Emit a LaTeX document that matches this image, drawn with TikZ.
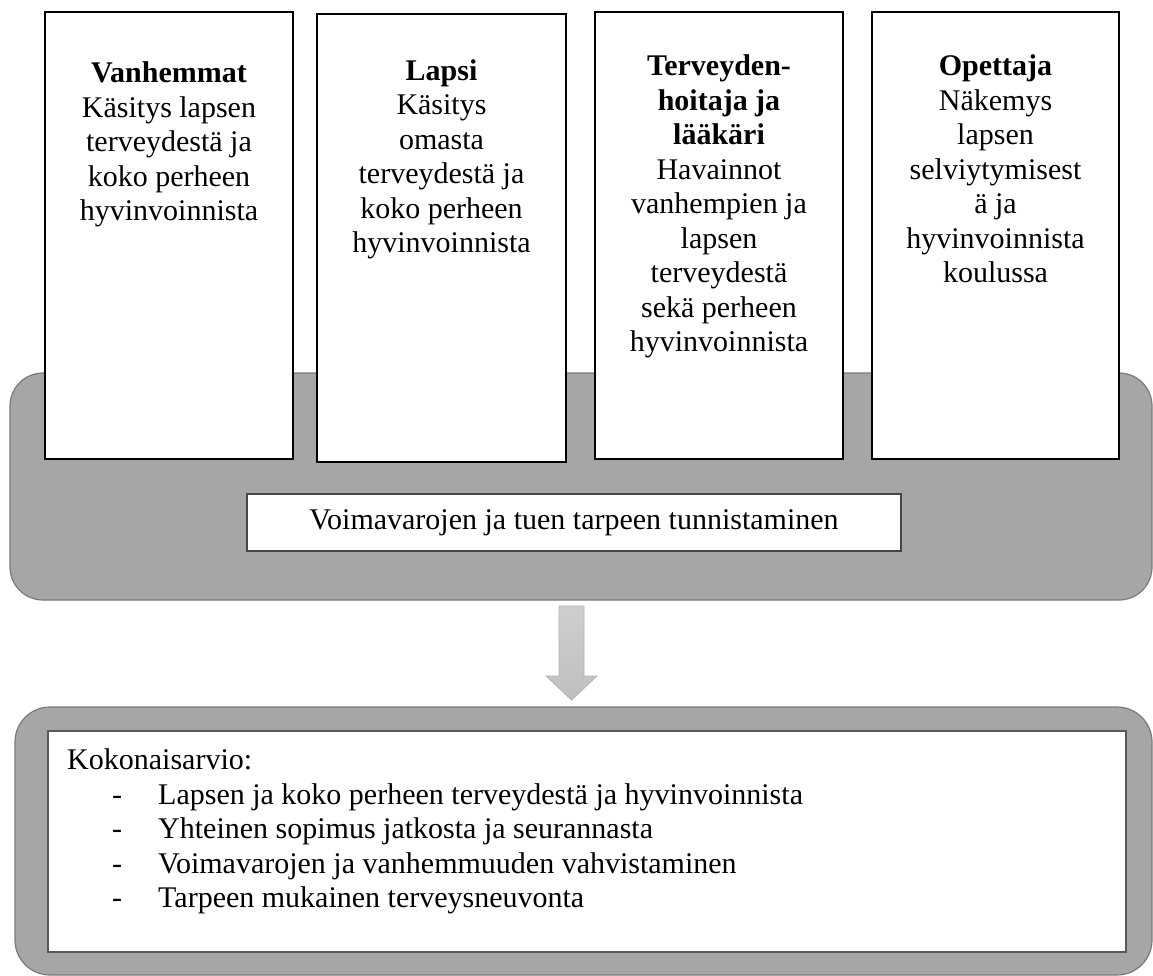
\documentclass[tikz,border=0pt]{standalone}
\usepackage{fontspec}
\setmainfont{Liberation Serif}
\usetikzlibrary{calc}
\newcommand\bodyfont{\fontsize{30}{34.5}\selectfont}
\begin{document}
\begin{tikzpicture}[x=1pt,y=-1pt,
  graybox/.style={draw=black!52, line width=1.2pt, fill=black!35, inner sep=0pt},
  whitebox/.style={draw=black, line width=1.6pt, fill=white, inner sep=0pt},
  midbox/.style={draw=black!72, line width=1.2pt, fill=white, inner sep=0pt, font=\bodyfont},
  boxlabel/.style={font=\bodyfont, align=center, inner sep=0pt, anchor=north},
  blockarrow/.style={draw=black!30, line width=0.8pt, top color=black!19, bottom color=black!25}]
\useasboundingbox (0,0) rectangle (1153,976);
% upper gray panel
\node[graybox, rounded corners=33pt, minimum width=1142pt, minimum height=227pt] (g1) at (581,486.5) {};
% four white boxes
\node[whitebox, minimum width=248pt, minimum height=447pt] (b1) at (169,235.5) {};
\node[whitebox, minimum width=249pt, minimum height=448pt] (b2) at (441.5,238) {};
\node[whitebox, minimum width=248pt, minimum height=447pt] (b3) at (719,235.5) {};
\node[whitebox, minimum width=247pt, minimum height=447pt] (b4) at (995.5,235.5) {};
\node[boxlabel] (t1) at (169,61.5) {\textbf{Vanhemmat}\\Käsitys lapsen\\terveydestä ja\\koko perheen\\hyvinvoinnista};
\node[boxlabel] (t2) at (441.5,59) {\textbf{Lapsi}\\Käsitys\\omasta\\terveydestä ja\\koko perheen\\hyvinvoinnista};
\node[boxlabel] (t3) at (719,54.5) {\textbf{Terveyden-}\\\textbf{hoitaja ja}\\\textbf{lääkäri}\\Havainnot\\vanhempien ja\\lapsen\\terveydestä\\sekä perheen\\hyvinvoinnista};
\node[boxlabel] (t4) at (995.5,54.5) {\textbf{Opettaja}\\Näkemys\\lapsen\\selviytymisest\\ä ja\\hyvinvoinnista\\koulussa};
% middle box
\node[midbox, minimum width=654pt, minimum height=57pt] (mid) at (574,522.5) {Voimavarojen ja tuen tarpeen tunnistaminen};
% block arrow
\coordinate (atop) at (571.5,606);
\coordinate (atip) at (571.5,700);
\draw[blockarrow] ($(atop)+(-12.5,0)$) -- ($(atop)+(12.5,0)$) -- ($(atip)+(12.5,-24)$) -- ($(atip)+(25.5,-24)$) -- (atip) -- ($(atip)+(-25.5,-24)$) -- ($(atip)+(-12.5,-24)$) -- cycle;
% lower gray panel
\node[graybox, rounded corners=35pt, minimum width=1137pt, minimum height=268pt] (g2) at (583.5,841) {};
\node[whitebox, draw=black!65, line width=1.4pt, minimum width=1078pt, minimum height=221pt] (res) at (587,841.5) {};
\node[font=\bodyfont, align=left, inner sep=0pt, anchor=north west] (kok) at (67,748.5) {Kokonaisarvio:\\\makebox[91pt][l]{\hspace*{45pt}-}Lapsen ja koko perheen terveydestä ja hyvinvoinnista\\\makebox[91pt][l]{\hspace*{45pt}-}Yhteinen sopimus jatkosta ja seurannasta\\\makebox[91pt][l]{\hspace*{45pt}-}Voimavarojen ja vanhemmuuden vahvistaminen\\\makebox[91pt][l]{\hspace*{45pt}-}Tarpeen mukainen terveysneuvonta};
\end{tikzpicture}
\end{document}
